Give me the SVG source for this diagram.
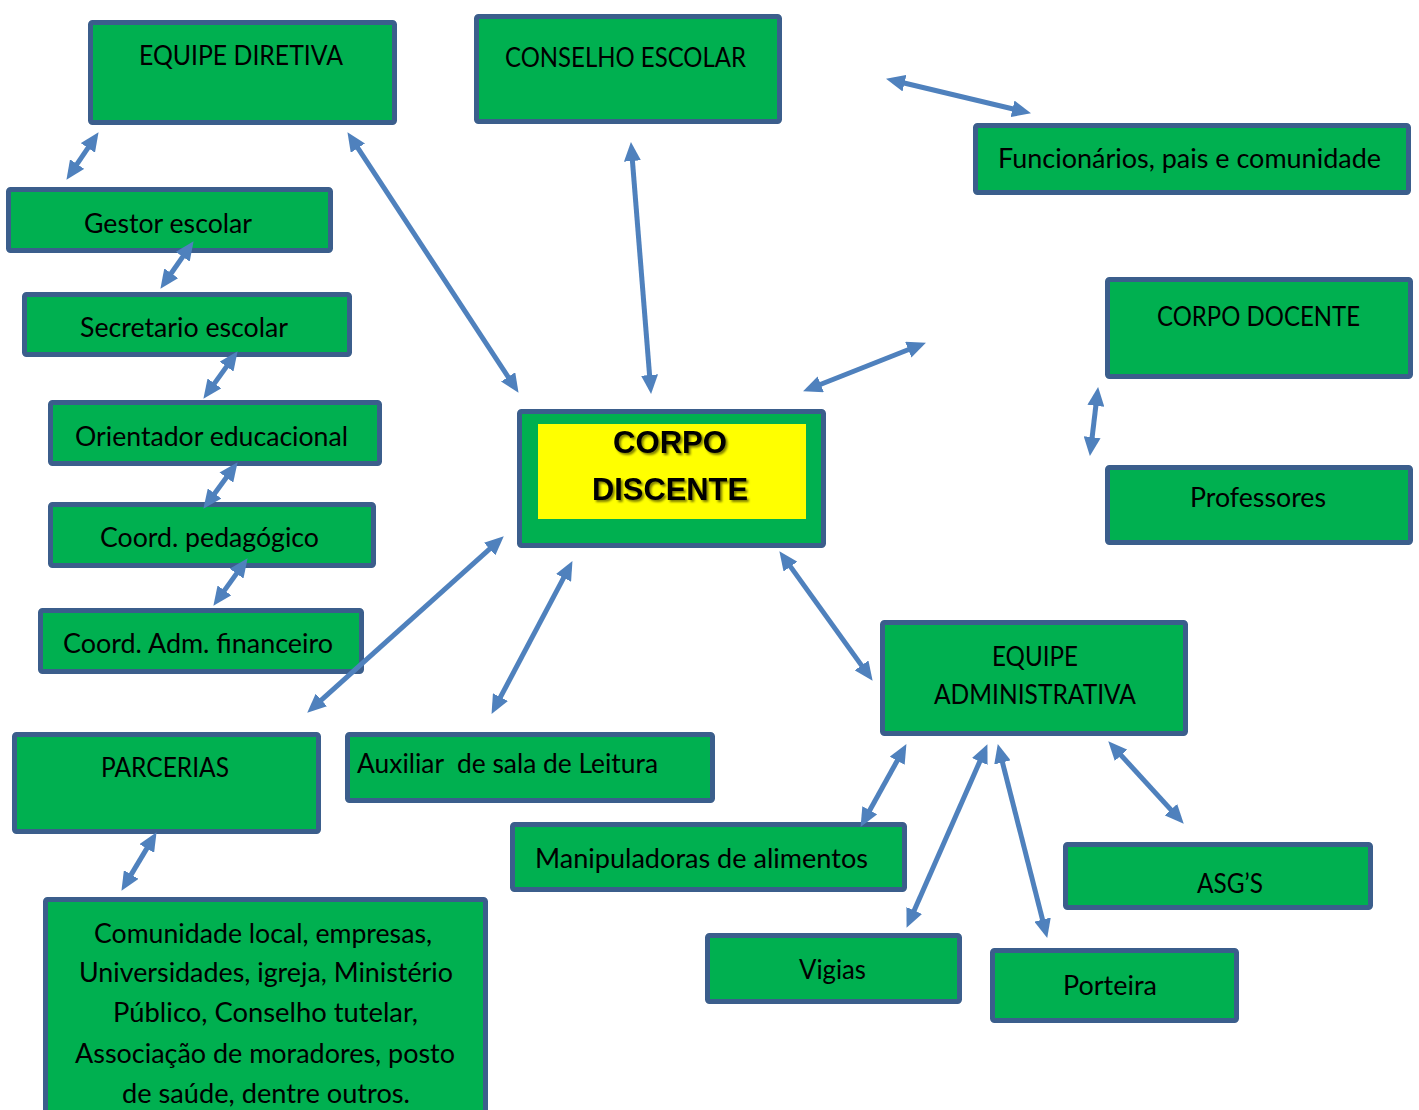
<svg xmlns="http://www.w3.org/2000/svg" width="1419" height="1110" viewBox="0 0 1419 1110">
<style>
.box{fill:#00B050;stroke:#3B5E8C;stroke-width:5}
.t{font-family:Lato,"Open Sans","Noto Sans",sans-serif;font-size:26px;fill:#000;text-anchor:middle}
.big{font-family:"Liberation Sans",Arial,sans-serif;font-weight:bold;font-size:31px;fill:#000;text-anchor:middle}
.c line{stroke:#4F81BD;stroke-width:5;marker-start:url(#ah);marker-end:url(#ah)}
</style>
<defs>
<marker id="ah" markerUnits="userSpaceOnUse" markerWidth="19" markerHeight="17" refX="8" refY="8.5" orient="auto-start-reverse" viewBox="0 0 19 17">
<path d="M0,0 L19,8.5 L0,17 z" fill="#4F81BD"/>
</marker>
<filter id="sh" x="-10%" y="-20%" width="130%" height="150%">
<feDropShadow dx="2" dy="2" stdDeviation="1" flood-color="#000" flood-opacity="0.5"/>
</filter>
</defs>
<rect width="1419" height="1110" fill="#fff"/>
<g id="equipe-diretiva"><rect class="box" x="90.5" y="22.5" width="304" height="100" rx="2"/><text class="t" x="241" y="65" textLength="204" lengthAdjust="spacingAndGlyphs">EQUIPE DIRETIVA</text></g>
<g id="conselho-escolar"><rect class="box" x="476.5" y="16.5" width="303" height="105" rx="2"/><text class="t" x="625.5" y="67" textLength="241" lengthAdjust="spacingAndGlyphs">CONSELHO ESCOLAR</text></g>
<g id="funcionarios"><rect class="box" x="975.5" y="125.5" width="433" height="67" rx="2"/><text class="t" x="1189.5" y="168" textLength="383" lengthAdjust="spacingAndGlyphs">Funcionários, pais e comunidade</text></g>
<g id="gestor"><rect class="box" x="8.5" y="189.5" width="322" height="61" rx="2"/><text class="t" x="168" y="233" textLength="168" lengthAdjust="spacingAndGlyphs">Gestor escolar</text></g>
<g id="secretario"><rect class="box" x="24.5" y="294.5" width="325" height="60" rx="2"/><text class="t" x="184" y="337" textLength="208" lengthAdjust="spacingAndGlyphs">Secretario escolar</text></g>
<g id="orientador"><rect class="box" x="50.5" y="402.5" width="329" height="61" rx="2"/><text class="t" x="211.5" y="446" textLength="273" lengthAdjust="spacingAndGlyphs">Orientador educacional</text></g>
<g id="coord-pedagogico"><rect class="box" x="50.5" y="504.5" width="323" height="61" rx="2"/><text class="t" x="209.5" y="547" textLength="219" lengthAdjust="spacingAndGlyphs">Coord. pedagógico</text></g>
<g id="coord-adm"><rect class="box" x="40.5" y="610.5" width="321" height="61" rx="2"/><text class="t" x="198" y="653" textLength="270" lengthAdjust="spacingAndGlyphs">Coord. Adm. financeiro</text></g>
<g id="corpo-discente"><rect class="box" x="519.5" y="411.5" width="304" height="134" rx="2"/><rect x="538" y="424" width="268" height="95" fill="#FFFF00"/><g filter="url(#sh)"><text class="big" x="670" y="453" textLength="114" lengthAdjust="spacingAndGlyphs">CORPO</text><text class="big" x="670" y="500" textLength="156" lengthAdjust="spacingAndGlyphs">DISCENTE</text></g></g>
<g id="corpo-docente"><rect class="box" x="1107.5" y="279.5" width="303" height="97" rx="2"/><text class="t" x="1258.5" y="326" textLength="203" lengthAdjust="spacingAndGlyphs">CORPO DOCENTE</text></g>
<g id="professores"><rect class="box" x="1107.5" y="467.5" width="303" height="75" rx="2"/><text class="t" x="1258" y="507" textLength="136" lengthAdjust="spacingAndGlyphs">Professores</text></g>
<g id="equipe-administrativa"><rect class="box" x="882.5" y="622.5" width="303" height="111" rx="2"/><text class="t" x="1035" y="666" textLength="86" lengthAdjust="spacingAndGlyphs">EQUIPE</text><text class="t" x="1035" y="704" textLength="202" lengthAdjust="spacingAndGlyphs">ADMINISTRATIVA</text></g>
<g id="parcerias"><rect class="box" x="14.5" y="734.5" width="304" height="97" rx="2"/><text class="t" x="165" y="777" textLength="128" lengthAdjust="spacingAndGlyphs">PARCERIAS</text></g>
<g id="auxiliar"><rect class="box" x="347.5" y="734.5" width="365" height="66" rx="2"/><text class="t" x="357" y="773" style="text-anchor:start;white-space:pre" xml:space="preserve" textLength="301" lengthAdjust="spacingAndGlyphs">Auxiliar  de sala de Leitura</text></g>
<g id="manipuladoras"><rect class="box" x="512.5" y="824.5" width="392" height="65" rx="2"/><text class="t" x="701.5" y="868" textLength="333" lengthAdjust="spacingAndGlyphs">Manipuladoras de alimentos</text></g>
<g id="asgs"><rect class="box" x="1065.5" y="844.5" width="305" height="63" rx="2"/><text class="t" x="1230" y="893" textLength="66" lengthAdjust="spacingAndGlyphs">ASG’S</text></g>
<g id="vigias"><rect class="box" x="707.5" y="935.5" width="252" height="66" rx="2"/><text class="t" x="832.5" y="979" textLength="67" lengthAdjust="spacingAndGlyphs">Vigias</text></g>
<g id="porteira"><rect class="box" x="992.5" y="950.5" width="244" height="70" rx="2"/><text class="t" x="1110" y="995" textLength="94" lengthAdjust="spacingAndGlyphs">Porteira</text></g>
<g id="comunidade"><rect class="box" x="45.5" y="899.5" width="440" height="230" rx="2"/>
<text class="t" x="263" y="943" textLength="338" lengthAdjust="spacingAndGlyphs">Comunidade local, empresas,</text>
<text class="t" x="266" y="982" textLength="374" lengthAdjust="spacingAndGlyphs">Universidades, igreja, Ministério</text>
<text class="t" x="265.5" y="1022" textLength="305" lengthAdjust="spacingAndGlyphs">Público, Conselho tutelar,</text>
<text class="t" x="265" y="1063" textLength="380" lengthAdjust="spacingAndGlyphs">Associação de moradores, posto</text>
<text class="t" x="266" y="1103" textLength="288" lengthAdjust="spacingAndGlyphs">de saúde, dentre outros.</text>
</g>
<g id="connectors" class="c">
<line x1="92.4" y1="141.3" x2="72.6" y2="170.7"/>
<line x1="353.5" y1="141.4" x2="512.5" y2="383.6"/>
<line x1="631.8" y1="153" x2="650.2" y2="383"/>
<line x1="896.7" y1="81.3" x2="1020.3" y2="110.7"/>
<line x1="813.3" y1="387.3" x2="915.7" y2="346.7"/>
<line x1="1096.8" y1="397.9" x2="1091.2" y2="445.1"/>
<line x1="187.3" y1="250.2" x2="166.7" y2="279.8"/>
<line x1="231.2" y1="360.1" x2="209.8" y2="389.9"/>
<line x1="231.1" y1="471.1" x2="209.9" y2="499.9"/>
<line x1="241.2" y1="567.1" x2="219.8" y2="596.9"/>
<line x1="495.6" y1="543.7" x2="315.4" y2="705.3"/>
<line x1="567.3" y1="570.8" x2="496.7" y2="704.2"/>
<line x1="785.8" y1="560.1" x2="866.2" y2="671.9"/>
<line x1="150.9" y1="841.6" x2="127.1" y2="881.4"/>
<line x1="901.1" y1="753.7" x2="865.9" y2="817.3"/>
<line x1="983" y1="754.2" x2="911" y2="917.8"/>
<line x1="1000.5" y1="754.7" x2="1044.5" y2="927.3"/>
<line x1="1115.7" y1="749.4" x2="1176.3" y2="815.6"/>
</g>
</svg>
